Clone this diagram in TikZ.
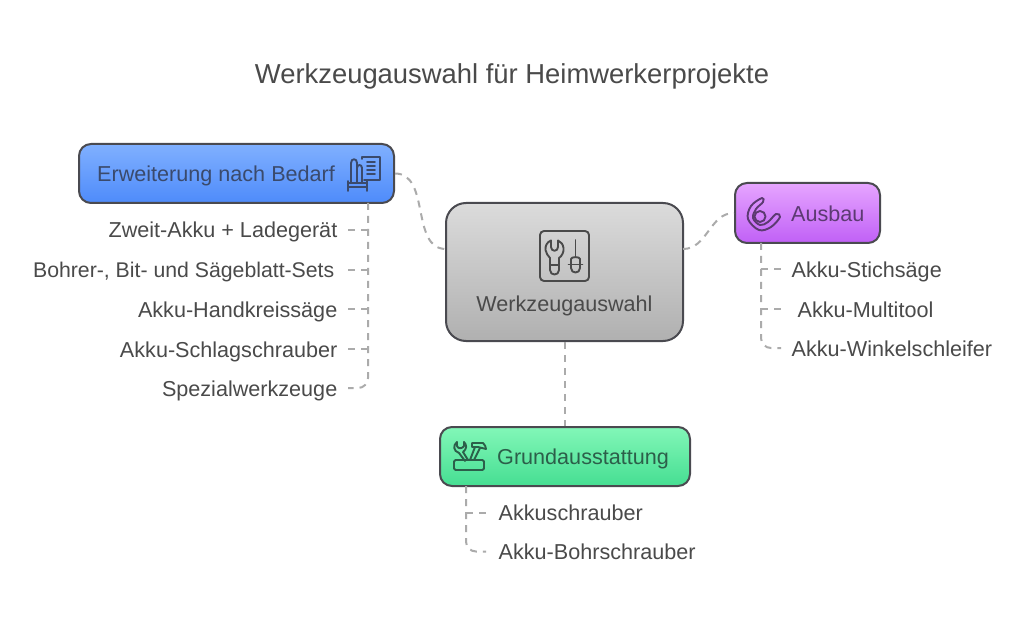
\documentclass[tikz,border=0pt]{standalone}
\usepackage{fontspec}
\setmainfont{Liberation Sans}
\definecolor{txt}{HTML}{4A4A4A}
\definecolor{lnk}{HTML}{ABABAB}
\definecolor{rim}{HTML}{4A4A50}
\definecolor{txtB}{HTML}{3A4A6C}
\definecolor{txtA}{HTML}{5C3A72}
\definecolor{txtG}{HTML}{2C5F4A}
\tikzset{
	box/.style={draw=rim,line width=2pt,rounded corners=12pt,minimum height=59pt,inner sep=0pt},
	link/.style={draw=lnk,line width=2pt,dash pattern=on 7pt off 6pt},
	item/.style={text=txt,font=\fontsize{21.6}{24}\selectfont,inner xsep=10.5pt,inner ysep=0pt,text height=20pt,text depth=4pt},
	icon/.style={line width=1.9pt,line join=round,line cap=round},
}
\begin{document}
\begin{tikzpicture}[x=1pt,y=-1pt]
	\useasboundingbox[fill=white] (0,0) rectangle (1024,617);

	\node[text=txt,font=\fontsize{27.4}{30}\selectfont] (titel) at (512,76) {Werkzeugauswahl für Heimwerkerprojekte};

	% Kaesten
	\node[box,rounded corners=20pt,minimum width=237pt,minimum height=138pt,top color=black!14,bottom color=black!31] (mitte) at (564.5,272) {};
	\node[box,minimum width=315pt,top color={rgb,255:red,128;green,176;blue,255},bottom color={rgb,255:red,78;green,139;blue,250}] (bedarf) at (236.5,173.5) {};
	\node[box,minimum width=145pt,minimum height=60pt,top color={rgb,255:red,230;green,165;blue,255},bottom color={rgb,255:red,192;green,96;blue,246}] (ausbau) at (807.5,213) {};
	\node[box,minimum width=250pt,top color={rgb,255:red,130;green,247;blue,184},bottom color={rgb,255:red,70;green,222;blue,146}] (grund) at (565,456.5) {};

	% Beschriftung der Kaesten
	\node[item,text=txtB,anchor=west,inner xsep=0pt] (bedarftext) at (97,174) {Erweiterung nach Bedarf};
	\node[item,text=txtA,anchor=west,inner xsep=0pt] (ausbautext) at (791,214) {Ausbau};
	\node[item,text=txtG,anchor=west,inner xsep=0pt] (grundtext) at (497,456) {Grundausstattung};
	\node[item,inner xsep=0pt] (mittetext) at (564.5,303) {Werkzeugauswahl};

	% Listen
	\node[item,anchor=east] (zweit) at (348,230) {Zweit-Akku + Ladegerät};
	\node[item,anchor=east,font=\fontsize{21.25}{24}\selectfont] (sets) at (348,270) {Bohrer-, Bit- und Sägeblatt-Sets\kern3pt};
	\node[item,anchor=east] (kreis) at (348,309) {Akku-Handkreissäge};
	\node[item,anchor=east] (schlag) at (348,349) {Akku-Schlagschrauber};
	\node[item,anchor=east] (spezial) at (348,388) {Spezialwerkzeuge};

	\node[item,anchor=west] (stich) at (781,269) {Akku-Stichsäge};
	\node[item,anchor=west] (multi) at (781,309) {\ Akku-Multitool};
	\node[item,anchor=west] (winkel) at (781,348) {Akku-Winkelschleifer};

	\node[item,anchor=west] (schrauber) at (488,512.5) {Akkuschrauber};
	\node[item,anchor=west] (bohr) at (488,551.5) {Akku-Bohrschrauber};

	% Verbindungen
	\coordinate (mitteL) at (446,249);
	\coordinate (mitteR) at (683,249);
	\coordinate (stemB) at (368,203);
	\coordinate (stemA) at (761,243);
	\coordinate (stemG) at (466,486);
	\draw[link] (bedarf.east) to[out=0,in=180] (mitteL);
	\draw[link] (mitteR) to[out=0,in=180] (ausbau.west);
	\draw[link] (mitte.south) -- (mitte.south |- grund.north);

	\draw[link,rounded corners=10pt] (stemB) |- (spezial.east);
	\draw[link] (zweit.east) -- (zweit.east -| stemB);
	\draw[link] (sets.east) -- (sets.east -| stemB);
	\draw[link] (kreis.east) -- (kreis.east -| stemB);
	\draw[link] (schlag.east) -- (schlag.east -| stemB);

	\draw[link,rounded corners=10pt] (stemA) |- (winkel.west);
	\draw[link] (stich.west -| stemA) -- (stich.west);
	\draw[link] (multi.west -| stemA) -- (multi.west);

	\draw[link,rounded corners=10pt] (stemG) |- ([xshift=-2pt]bohr.west);
	\draw[link] (schrauber.west -| stemG) -- ([xshift=-2pt]schrauber.west);

	% Symbol Mitte
	\begin{scope}[icon,draw=txt]
		\draw[rounded corners=4pt] (540,231) rectangle (589,281);
		\draw (551,240.5) .. controls (547,242) and (545,246) .. (545.5,250) .. controls (546,253) and (548,256) .. (550,258) -- (550,270) .. controls (550,276) and (559,276) .. (559,270) -- (559,258) .. controls (562,256) and (564,252) .. (563.5,248) .. controls (563,244) and (561,242) .. (558,240.5) -- (558,247) .. controls (558,252) and (551,252) .. (551,247) -- cycle;
		\draw (550,265) -- (559,265);
		\draw (575.5,240) -- (575.5,257);
		\draw (571,268) -- (571,259) .. controls (571,256.5) and (580,256.5) .. (580,259) -- (580,268) .. controls (580,274) and (571,274) .. (571,268);
		\draw (568.5,264.5) -- (582.5,264.5);
	\end{scope}

	% Symbol Bedarf
	\begin{scope}[icon,draw=txtB]
		\draw (362,159) -- (362,157) -- (380,157) -- (380,180) -- (364,180);
		\draw (367,162) -- (375,162) (367,166) -- (375,166) (367,170) -- (375,170) (367,174) -- (375,174);
		\draw (351,183) -- (351,163) .. controls (351,158) and (357,158) .. (357,163) -- (357,183);
		\draw (357,168) .. controls (357,164) and (362,164) .. (362,168) -- (362,183);
		\draw (348,181) -- (348,191) (367,181) -- (367,191);
		\draw (348,183) -- (367,183) (348,187) -- (367,187);
	\end{scope}

	% Symbol Ausbau
	\begin{scope}[icon,draw=txtA]
		\draw plot[smooth cycle,tension=.6] coordinates {(762,198) (751,206) (748,219) (759,230) (771,227) (780,217) (776,214) (768,222) (760,225) (753,218) (756,209) (763,202)};
		\draw (760,216.5) circle (5.5pt);
	\end{scope}

	% Symbol Grund
	\begin{scope}[icon,draw=txtG]
		\draw[rounded corners=1.5pt] (454,460) rectangle (484,470);
		\draw (457,442) .. controls (453,445) and (453,451) .. (459,453) -- (465,461);
		\draw (464,442) .. controls (467,445) and (467,449) .. (463,452) -- (468,460);
		\draw (457,442) -- (457,446) .. controls (458,449) and (462,449) .. (464,446) -- (464,442);
		\draw (472,443) -- (483,443) .. controls (485,445) and (486,447) .. (486,449) -- (478,447) -- (472,447) -- cycle;
		\draw (475,447) -- (470,460);
		\draw (480,448) -- (474,460);
	\end{scope}
\end{tikzpicture}
\end{document}
